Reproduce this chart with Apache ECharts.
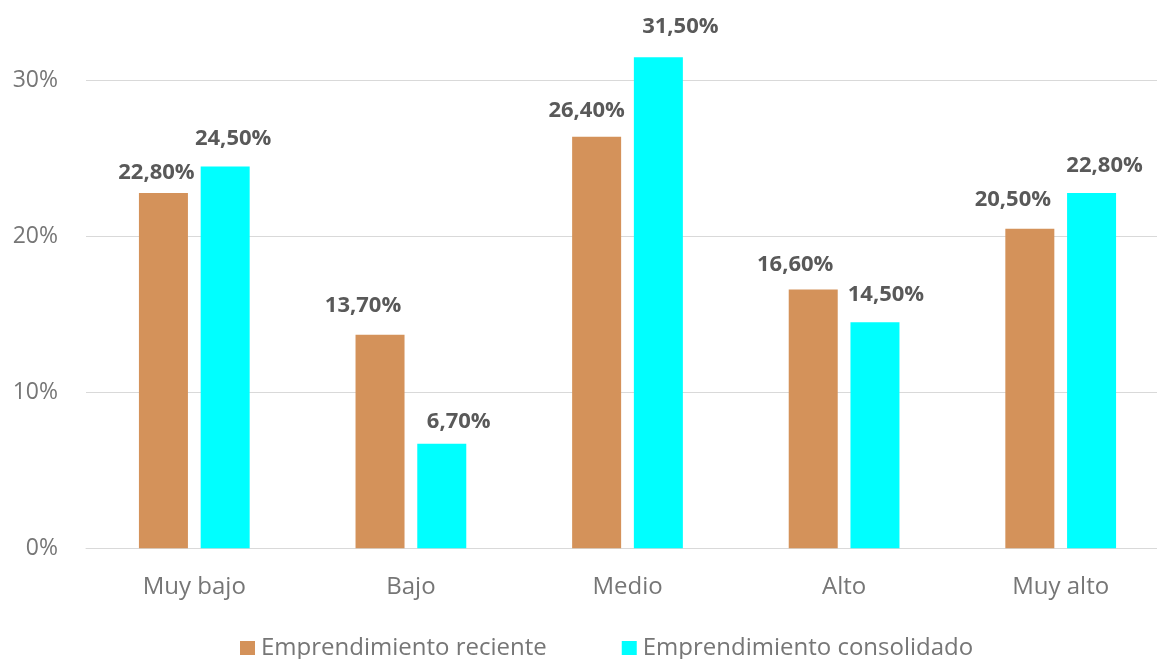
<!DOCTYPE html>
<html>
<head>
<meta charset="utf-8">
<script src="https://cdn.jsdelivr.net/npm/echarts@6/dist/echarts.min.js"></script>
<style>
  html, body { margin: 0; padding: 0; background: #ffffff; }
  #chart { width: 1157px; height: 659px; }
</style>
</head>
<body>
<div id="chart"></div>
<script>
// ---- Data ----
const categories = ['Muy bajo', 'Bajo', 'Medio', 'Alto', 'Muy alto'];
const seriesNames = ['Emprendimiento reciente', 'Emprendimiento consolidado'];
const reciente = [22.8, 13.7, 26.4, 16.6, 20.5];
const consolidado = [24.5, 6.7, 31.5, 14.5, 22.8];
const yTicks = [0, 10, 20, 30];

// ---- Style (label nudges, as in the original layout) ----
const labelNudgeReciente = [[-7, -4], [-17, -13], [-10, -10], [-18, -9], [-17, -13]];
const labelNudgeConsolidado = [[8, -12], [17, -6], [22, -15], [11, -12], [13, -11]];

const FONT = '"Open Sans", "Noto Sans", sans-serif';
const fmt = v => v.toFixed(2).replace('.', ',') + '%';

function buildData(values, nudges) {
  return values.map((v, i) => ({
    value: v,
    label: { offset: nudges[i] }
  }));
}

const labelStyle = {
  show: true,
  position: 'top',
  distance: 5,
  formatter: p => fmt(p.value),
  fontFamily: FONT,
  fontWeight: 'bold',
  fontSize: 22,
  color: '#595959'
};

const chart = echarts.init(document.getElementById('chart'), null, { renderer: 'canvas' });
chart.setOption({
  animation: false,
  backgroundColor: '#ffffff',
  grid: { left: 86, width: 1083, top: 2.7, height: 545.6, containLabel: false, outerBoundsMode: 'none' },
  legend: {
    left: 235,
    top: 631,
    itemWidth: 15,
    itemHeight: 14,
    itemGap: 75,
    icon: 'rect',
    textStyle: { fontFamily: FONT, fontSize: 24, color: '#767676', padding: [0, 0, 0, 1] },
    data: seriesNames
  },
  xAxis: {
    type: 'category',
    data: categories,
    axisLine: { show: true, lineStyle: { color: '#d9d9d9', width: 1 } },
    axisTick: { show: false },
    axisLabel: { fontFamily: FONT, fontSize: 24, color: '#767676', margin: 27 }
  },
  yAxis: {
    type: 'value',
    min: yTicks[0],
    max: 35,
    interval: 10,
    axisLine: { show: false },
    axisTick: { show: false },
    axisLabel: {
      fontFamily: FONT, fontSize: 23, color: '#767676', margin: 28,
      showMaxLabel: false,
      formatter: v => (yTicks.indexOf(v) >= 0 ? v + '%' : '')
    },
    splitLine: { show: true, showMaxLine: false, lineStyle: { color: '#d9d9d9', width: 1 } }
  },
  series: [
    {
      name: seriesNames[0],
      type: 'bar',
      data: buildData(reciente, labelNudgeReciente),
      barWidth: 49,
      barGap: '26%',
      itemStyle: { color: '#D4925A' },
      label: labelStyle
    },
    {
      name: seriesNames[1],
      type: 'bar',
      data: buildData(consolidado, labelNudgeConsolidado),
      barWidth: 49,
      barGap: '26%',
      itemStyle: { color: '#00FFFF' },
      label: labelStyle
    }
  ]
});
</script>
</body>
</html>
